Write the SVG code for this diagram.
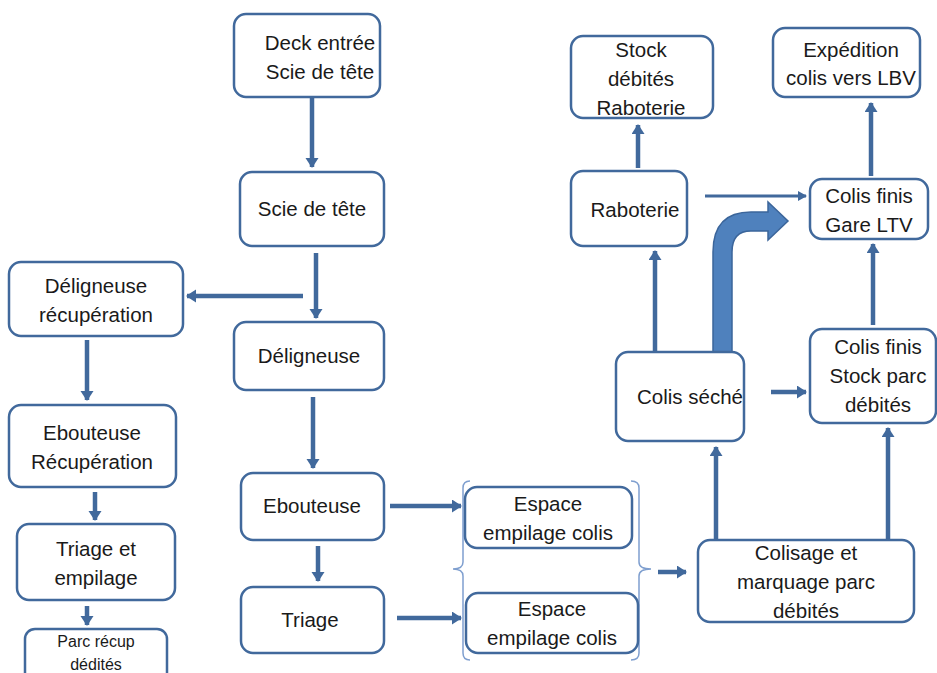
<svg xmlns="http://www.w3.org/2000/svg" width="937" height="673" viewBox="0 0 937 673">
<style>
.box{fill:#fff;stroke:#41699c;stroke-width:2.5}
text{font-family:"Liberation Sans",Arial,sans-serif;font-size:20.5px;fill:#1a1a1a;text-anchor:middle}
.sm{font-size:16px}
.ar{stroke:#41699c;stroke-width:4.5;fill:none;marker-end:url(#ah)}
.thin{stroke:#41699c;stroke-width:3;fill:none;marker-end:url(#ah2)}
.brace{fill:none;stroke:#7f9fcf;stroke-width:1.5}
</style>
<defs>
<marker id="ah" markerUnits="userSpaceOnUse" markerWidth="14" markerHeight="14" refX="9" refY="6.5" orient="auto"><path d="M0,0 L10,6.5 L0,13 Z" fill="#41699c"/></marker>
<marker id="ah2" markerUnits="userSpaceOnUse" markerWidth="12" markerHeight="12" refX="8" refY="5" orient="auto"><path d="M0,0 L9,5 L0,10 Z" fill="#41699c"/></marker>
</defs>
<rect width="937" height="673" fill="#fff"/>
<g id="connectors">
<line class="ar" x1="312" y1="97" x2="312" y2="167"/>
<line class="ar" x1="316" y1="253" x2="316" y2="318"/>
<line class="ar" x1="303" y1="296" x2="187" y2="296"/>
<line class="ar" x1="87" y1="340" x2="87" y2="400"/>
<line class="ar" x1="95" y1="492" x2="95" y2="520"/>
<line class="ar" x1="87" y1="606" x2="87" y2="625"/>
<line class="ar" x1="313" y1="397" x2="313" y2="468"/>
<line class="ar" x1="318" y1="546" x2="318" y2="581"/>
<line class="ar" x1="390" y1="506" x2="461" y2="506"/>
<line class="ar" x1="397" y1="618" x2="461" y2="618"/>
<line class="ar" x1="658" y1="572" x2="686" y2="572"/>
<line class="ar" x1="716" y1="540" x2="716" y2="447"/>
<line class="ar" x1="888" y1="540" x2="888" y2="428"/>
<line class="ar" x1="655" y1="352" x2="655" y2="251"/>
<line class="ar" x1="771" y1="392" x2="806" y2="392"/>
<line class="ar" x1="638" y1="168" x2="638" y2="125"/>
<line class="thin" x1="705" y1="196" x2="806" y2="196"/>
<line class="ar" x1="871" y1="176" x2="871" y2="103"/>
<line class="ar" x1="873" y1="325" x2="873" y2="244"/>
<path d="M713,352 L713,252 Q713,212 751,212 L768,212 L768,202 L788,221 L768,240 L768,231 L751,231 Q732,231 732,252 L732,352 Z" fill="#4f81bd" stroke="#3b659a" stroke-width="1.5"/>
<path class="brace" d="M470,481 Q463,481 463,488 L463,562 Q463,569 453,569 Q463,569 463,576 L463,653 Q463,660 470,660"/>
<path class="brace" d="M631,481 Q639,481 639,488 L639,562 Q639,569 651,569 Q639,569 639,576 L639,653 Q639,660 631,660"/>
</g>
<g id="n1"><rect class="box" x="234" y="14" width="146" height="83" rx="12"/><text x="320" y="50">Deck entrée</text><text x="320" y="79">Scie de tête</text></g>
<g id="n2"><rect class="box" x="240" y="172" width="144" height="74" rx="12"/><text x="312" y="216">Scie de tête</text></g>
<g id="n3"><rect class="box" x="9" y="262" width="174" height="74" rx="12"/><text x="96" y="293">Déligneuse</text><text x="96" y="322">récupération</text></g>
<g id="n4"><rect class="box" x="234" y="322" width="150" height="68" rx="12"/><text x="309" y="363">Déligneuse</text></g>
<g id="n5"><rect class="box" x="9" y="405" width="167" height="82" rx="12"/><text x="92" y="440">Ebouteuse</text><text x="92" y="469">Récupération</text></g>
<g id="n6"><rect class="box" x="241" y="473" width="143" height="67" rx="12"/><text x="312" y="513">Ebouteuse</text></g>
<g id="n7"><rect class="box" x="17" y="524" width="158" height="76" rx="12"/><text x="96" y="556">Triage et</text><text x="96" y="585">empilage</text></g>
<g id="n8"><rect class="box" x="241" y="587" width="143" height="66" rx="12"/><text x="310" y="627">Triage</text></g>
<g id="n9"><rect class="box" x="25" y="629" width="142" height="60" rx="10"/><text class="sm" x="96" y="647">Parc récup</text><text class="sm" x="96" y="670">dédités</text></g>
<g id="n10"><rect class="box" x="465" y="487" width="167" height="61" rx="12"/><text x="548" y="511">Espace</text><text x="548" y="540">empilage colis</text></g>
<g id="n11"><rect class="box" x="466" y="593" width="172" height="60" rx="12"/><text x="552" y="616">Espace</text><text x="552" y="645">empilage colis</text></g>
<g id="n12"><rect class="box" x="698" y="540" width="216" height="82" rx="12"/><text x="806" y="560">Colisage et</text><text x="806" y="589">marquage parc</text><text x="806" y="618">débités</text></g>
<g id="n13"><rect class="box" x="616" y="352" width="128" height="89" rx="12"/><text x="690" y="404">Colis séché</text></g>
<g id="n14"><rect class="box" x="571" y="171" width="116" height="75" rx="12"/><text x="635" y="217">Raboterie</text></g>
<g id="n15"><rect class="box" x="571" y="36" width="142" height="82" rx="12"/><text x="641" y="57">Stock</text><text x="641" y="86">débités</text><text x="641" y="115">Raboterie</text></g>
<g id="n16"><rect class="box" x="773" y="28" width="147" height="69" rx="12"/><text x="851" y="57">Expédition</text><text x="851" y="85">colis vers LBV</text></g>
<g id="n17"><rect class="box" x="810" y="179" width="118" height="60" rx="12"/><text x="869" y="203">Colis finis</text><text x="869" y="232">Gare LTV</text></g>
<g id="n18"><rect class="box" x="810" y="329" width="126" height="94" rx="12"/><text x="878" y="354">Colis finis</text><text x="878" y="383">Stock parc</text><text x="878" y="412">débités</text></g>
</svg>
